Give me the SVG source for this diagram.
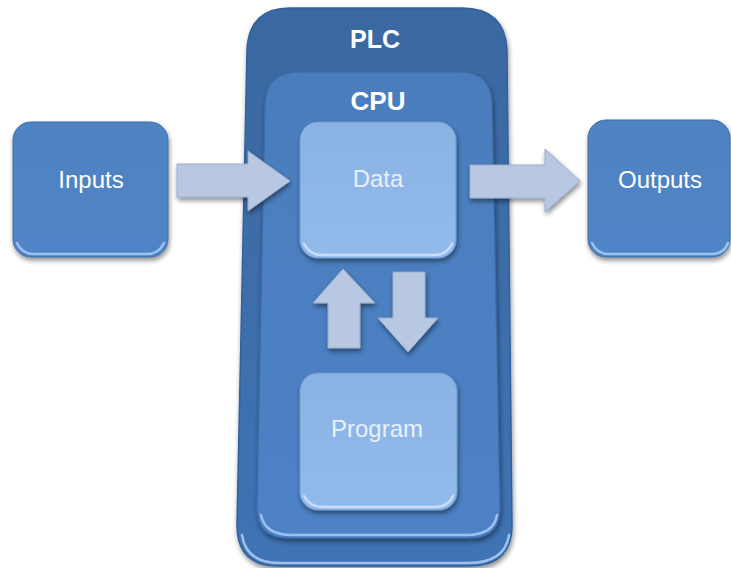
<svg xmlns="http://www.w3.org/2000/svg" width="731" height="568" viewBox="0 0 731 568">
<defs>
<linearGradient id="gPlc" x1="0" y1="0" x2="0" y2="1">
<stop offset="0" stop-color="#3a68a1"/>
<stop offset="1" stop-color="#3f73b4"/>
</linearGradient>
<linearGradient id="gCpu" x1="0" y1="0" x2="0" y2="1">
<stop offset="0" stop-color="#4a7dbd"/>
<stop offset="1" stop-color="#4d82c6"/>
</linearGradient>
<linearGradient id="gInner" x1="0" y1="0" x2="0" y2="1">
<stop offset="0" stop-color="#8ab2e3"/>
<stop offset="1" stop-color="#92bbec"/>
</linearGradient>
<linearGradient id="gIO" x1="0" y1="0" x2="0" y2="1">
<stop offset="0" stop-color="#4f82c2"/>
<stop offset="1" stop-color="#4f84c6"/>
</linearGradient>
<filter id="sh" x="-20%" y="-20%" width="140%" height="140%">
<feGaussianBlur in="SourceAlpha" stdDeviation="2.5"/>
<feOffset dx="1" dy="3" result="b"/>
<feComponentTransfer><feFuncA type="linear" slope="0.45"/></feComponentTransfer>
<feMerge><feMergeNode/><feMergeNode in="SourceGraphic"/></feMerge>
</filter>
</defs>
<style>
.lbl{font-family:"Liberation Sans",Arial,sans-serif;fill:#ffffff;text-anchor:middle}
.title{font-size:25px;font-weight:bold}
.norm{font-size:24px}
.inner{fill:#e8f0fa;font-size:24px}
.arrow{fill:#b8c8e3;stroke:#9aaccb;stroke-width:1}
.edgeHi{fill:none;stroke:#9cc1ee;stroke-width:2.5;stroke-linecap:round}
.edgeHi2{fill:none;stroke:#c9defa;stroke-width:2.5;stroke-linecap:round}
</style>
<rect width="731" height="568" fill="#ffffff"/>

<g id="plc">
<path d="M290,8 L462,8 Q505,8 507,50 L512,525 Q512,566 470,566 L278,566 Q237,566 237,525 L247,50 Q249,8 290,8 Z" fill="url(#gPlc)" stroke="#33609a" stroke-width="1.5" filter="url(#sh)"/>
<path class="edgeHi" d="M242,535 Q246,563 280,563 L468,563 Q505,563 509,535"/>
<text class="lbl title" x="375" y="48">PLC</text>
</g>

<g id="cpu">
<path d="M300,72 L460,72 Q491,72 492,104 L500,508 Q500,538 470,538 L288,538 Q257,538 257,508 L265,104 Q266,72 300,72 Z" fill="url(#gCpu)" stroke="#3c6ca8" stroke-width="1.2" filter="url(#sh)"/>
<path class="edgeHi" d="M261,515 Q265,535 292,535 L466,535 Q494,535 497,515"/>
<text class="lbl title" x="378" y="110" style="font-size:26px">CPU</text>
</g>

<g id="data">
<rect x="300" y="122" width="156" height="136" rx="18" fill="url(#gInner)" stroke="#6f9bd2" stroke-width="1" filter="url(#sh)"/>
<path class="edgeHi2" d="M304,244 Q310,255 322,255 L434,255 Q447,255 452,244"/>
<text class="lbl inner" x="378" y="187">Data</text>
</g>

<g id="program">
<rect x="300" y="373" width="157" height="137" rx="18" fill="url(#gInner)" stroke="#6f9bd2" stroke-width="1" filter="url(#sh)"/>
<path class="edgeHi2" d="M304,496 Q310,507 322,507 L435,507 Q448,507 453,496"/>
<text class="lbl inner" x="377" y="437">Program</text>
</g>

<g id="inputs">
<rect x="13" y="122" width="155" height="135" rx="18" fill="url(#gIO)" stroke="#3f6ca6" stroke-width="1" filter="url(#sh)"/>
<path class="edgeHi" d="M17,243 Q22,254 34,254 L147,254 Q159,254 164,243"/>
<text class="lbl norm" x="91" y="188">Inputs</text>
</g>

<g id="outputs">
<rect x="588" y="120" width="142" height="137" rx="18" fill="url(#gIO)" stroke="#3f6ca6" stroke-width="1" filter="url(#sh)"/>
<path class="edgeHi" d="M592,243 Q597,254 609,254 L712,254 Q724,254 728,243"/>
<text class="lbl norm" x="660" y="188">Outputs</text>
</g>

<g id="connectors">
<path class="arrow" filter="url(#sh)" d="M177,164 L248,164 L248,151 L290,181 L248,211 L248,197 L177,197 Z"/>
<path class="arrow" filter="url(#sh)" d="M470,165 L545,165 L545,149 L580,181 L545,212 L545,198 L470,198 Z"/>
<path class="arrow" filter="url(#sh)" d="M343,269 L375,303 L360,303 L360,348 L328,348 L328,303 L313,303 Z"/>
<path class="arrow" filter="url(#sh)" d="M393,272 L425,272 L425,318 L438,318 L408,352 L378,318 L393,318 Z"/>
</g>
</svg>
